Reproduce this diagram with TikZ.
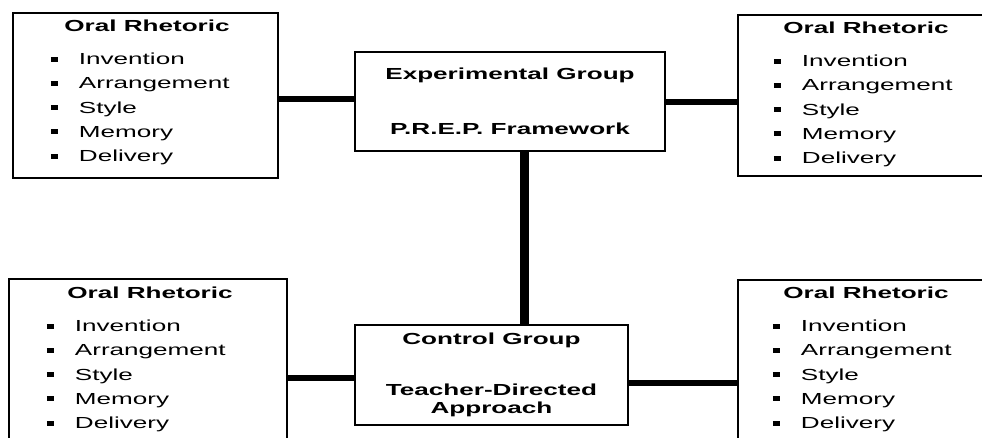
\documentclass[tikz,border=0pt]{standalone}
\usepackage{fontspec}
\setmainfont[FakeStretch=1.63]{Liberation Sans}
\usetikzlibrary{positioning,calc}

\newcommand{\sqbullet}{\rule[3pt]{7pt}{5pt}\hspace{21pt}}
\newcommand{\rhetitems}{\sqbullet Invention\\ \sqbullet Arrangement\\ \sqbullet Style\\ \sqbullet Memory\\ \sqbullet Delivery}

\begin{document}
\begin{tikzpicture}[x=1pt,y=-1pt,
		every node/.style={font=\fontsize{16}{24.25}\selectfont,inner sep=0pt},
		rhetbox/.style={draw,line width=2.5pt,minimum height=165pt},
		groupbox/.style={draw,line width=2.5pt,align=center,font=\bfseries\fontsize{16}{18}\selectfont},
		heading/.style={font=\bfseries\fontsize{16}{18}\selectfont},
		itemlist/.style={align=left,anchor=north west},
		link/.style={line width=6pt},
		stem/.style={line width=9pt}]
		\clip (0,0) rectangle (982,437);
		%
		\node[rhetbox,minimum width=265pt] (tl) at (145.5,95.5) {};
		\node[rhetbox,minimum width=256pt,minimum height=161pt] (tr) at (866,95.5) {};
		\node[rhetbox,minimum width=278pt] (bl) at (148,361.5) {};
		\node[rhetbox,minimum width=256pt] (br) at (866,362.5) {};
		\node[groupbox,minimum width=310pt,minimum height=99pt] (exp) at (510,101.5) {Experimental Group\\[37pt]P.R.E.P. Framework};
		\node[groupbox,minimum width=273pt,minimum height=100pt] (ctrl) at (491.5,375) {Control Group\\[33pt]Teacher-Directed\\Approach};
		%
		\node[heading,below=7.5pt of tl.north,xshift=1.5pt] (tl-head) {Oral Rhetoric};
		\node[heading,below=7.5pt of tr.north] (tr-head) {Oral Rhetoric};
		\node[heading,below=8.5pt of bl.north,xshift=2pt] (bl-head) {Oral Rhetoric};
		\node[heading,below=7.5pt of br.north] (br-head) {Oral Rhetoric};
		\node[itemlist] (tl-items) at ($(tl.north west)+(39,41)$) {\rhetitems};
		\node[itemlist] (tr-items) at ($(tr.north west)+(37,41)$) {\rhetitems};
		\node[itemlist] (bl-items) at ($(bl.north west)+(39,42)$) {\rhetitems};
		\node[itemlist] (br-items) at ($(br.north west)+(36,41)$) {\rhetitems};
		%
		\coordinate (tl-out) at ([yshift=-3pt]tl.east);
		\coordinate (stem-top) at ([xshift=14pt]exp.south);
		\coordinate (bl-out) at ([yshift=-2.5pt]ctrl.west);
		\coordinate (ctrl-out) at ([yshift=-8pt]ctrl.east);
		\draw[link] (tl-out) -- (tl-out -| exp.west);
		\draw[link] (exp.east) -- (exp.east -| tr.west);
		\draw[stem] (stem-top) -- (stem-top |- ctrl.north);
		\draw[link] (bl-out -| bl.east) -- (bl-out);
		\draw[link] (ctrl-out) -- (ctrl-out -| br.west);
	\end{tikzpicture}
\end{document}
